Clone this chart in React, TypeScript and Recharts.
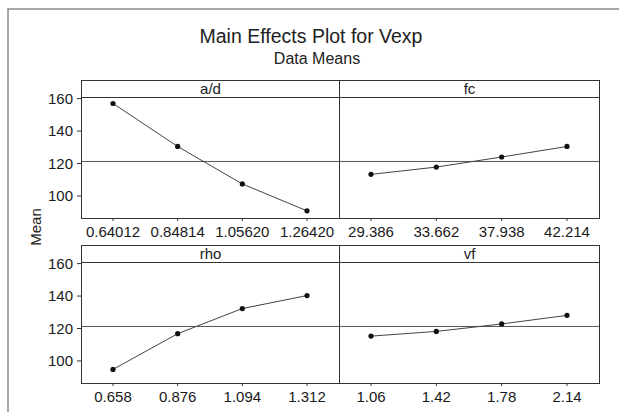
import { LineChart, Line, XAxis, YAxis, ReferenceLine } from 'recharts'

const adLevels = ['0.64012', '0.84814', '1.05620', '1.26420']
const adMeans = [157.0, 130.5, 107.4, 90.8]
const fcLevels = ['29.386', '33.662', '37.938', '42.214']
const fcMeans = [113.3, 117.8, 124.0, 130.5]
const rhoLevels = ['0.658', '0.876', '1.094', '1.312']
const rhoMeans = [94.8, 116.8, 132.3, 140.3]
const vfLevels = ['1.06', '1.42', '1.78', '2.14']
const vfMeans = [115.3, 118.2, 122.8, 128.1]
const yTicks = [100, 120, 140, 160]

const allMeans = [...adMeans, ...fcMeans, ...rhoMeans, ...vfMeans]
const grandMean = allMeans.reduce((s, v) => s + v, 0) / allMeans.length

const FONT = '"Liberation Sans", Arial, sans-serif'
const HEADER = 17
const PLOT = 121
const AXIS_W = 81
const TOP_PAD = 12
const INK = '#333'

interface PanelProps {
  name: string
  levels: string[]
  means: number[]
  plotLeft: number
  plotWidth: number
  headerTop: number
  showY: boolean
}

function Panel({ name, levels, means, plotLeft, plotWidth, headerTop, showY }: PanelProps) {
  const data = levels.map((level, i) => ({ level, mean: means[i] }))
  const extra = showY ? AXIS_W : 0
  return (
    <>
      <div style={{ position: 'absolute', left: plotLeft - extra, top: headerTop + HEADER - TOP_PAD }}>
        <LineChart
          width={plotWidth + extra}
          height={PLOT + 30 + TOP_PAD}
          data={data}
          margin={{ top: TOP_PAD, right: 0, left: 0, bottom: 0 }}
        >
          <XAxis
            dataKey="level"
            height={30}
            padding={{ left: 32, right: 32 }}
            axisLine={false}
            tickSize={3}
            tickMargin={5}
            tickLine={{ stroke: INK }}
            tick={{ fill: '#1a1a1a', fontSize: 15, fontFamily: FONT }}
            interval={0}
          />
          <YAxis
            hide={!showY}
            width={AXIS_W}
            domain={[86.4, 161]}
            allowDataOverflow
            ticks={yTicks}
            axisLine={false}
            tickSize={4}
            tickMargin={4}
            tickLine={{ stroke: INK }}
            tick={{ fill: '#1a1a1a', fontSize: 15, fontFamily: FONT }}
          />
          <ReferenceLine y={grandMean} stroke="#555" strokeWidth={1} />
          <Line
            type="linear"
            dataKey="mean"
            stroke="#444"
            strokeWidth={1}
            dot={{ r: 2.6, fill: '#111', stroke: 'none' }}
            isAnimationActive={false}
          />
        </LineChart>
      </div>
      <div
        style={{
          position: 'absolute',
          left: plotLeft,
          top: headerTop,
          width: plotWidth + 1,
          height: HEADER + PLOT + 1,
          border: `1.3px solid ${INK}`,
          boxSizing: 'border-box',
          pointerEvents: 'none',
        }}
      >
        <div
          style={{
            height: HEADER - 1,
            borderBottom: `1.3px solid ${INK}`,
            textAlign: 'center',
            fontFamily: FONT,
            fontSize: 15,
            lineHeight: `${HEADER - 2}px`,
            color: '#1a1a1a',
          }}
        >
          {name}
        </div>
      </div>
    </>
  )
}

export default function App() {
  return (
    <div style={{ position: 'absolute', left: 0, top: 0, width: 619, height: 417, background: '#fff', overflow: 'hidden' }}>
      <svg width={619} height={417} style={{ position: 'absolute', left: 0, top: 0 }}>
        <polyline points="8,412 8,9 619,9" fill="none" stroke="#8a8a8a" strokeWidth={1.5} />
        <text x={311} y={43} textAnchor="middle" fontFamily={FONT} fontSize={19.5} fill="#222">
          Main Effects Plot for Vexp
        </text>
        <text x={317} y={63.5} textAnchor="middle" fontFamily={FONT} fontSize={16} fill="#222">
          Data Means
        </text>
        <text
          x={41}
          y={227}
          textAnchor="middle"
          fontFamily={FONT}
          fontSize={15}
          fill="#222"
          transform="rotate(-90, 41, 227)"
        >
          Mean
        </text>
      </svg>
      <Panel name="a/d" levels={adLevels} means={adMeans} plotLeft={81} plotWidth={258} headerTop={80} showY />
      <Panel name="fc" levels={fcLevels} means={fcMeans} plotLeft={339} plotWidth={260} headerTop={80} showY={false} />
      <Panel name="rho" levels={rhoLevels} means={rhoMeans} plotLeft={81} plotWidth={258} headerTop={245} showY />
      <Panel name="vf" levels={vfLevels} means={vfMeans} plotLeft={339} plotWidth={260} headerTop={245} showY={false} />
    </div>
  )
}
